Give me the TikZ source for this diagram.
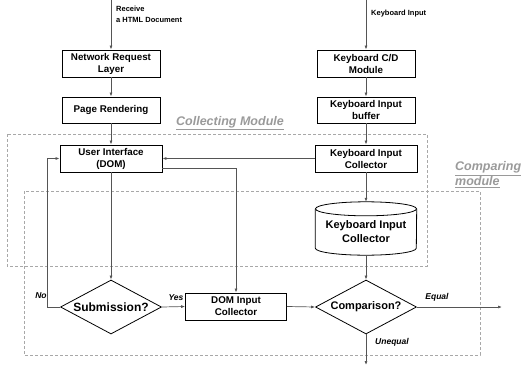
\documentclass[tikz,border=0pt]{standalone}
\usepackage{fontspec}
\setmainfont{Liberation Sans}
\usetikzlibrary{arrows.meta,shapes.geometric,calc}
\definecolor{lineg}{HTML}{555555}
\definecolor{dashg}{HTML}{A8A8A8}
\definecolor{labg}{HTML}{9A9A9A}
\tikzset{
  box/.style={draw=black,line width=0.9pt,fill=white,align=center,inner sep=1pt,
    font=\fontsize{9.8}{12}\selectfont\bfseries,minimum height=27pt},
  dia/.style={draw=black,line width=0.8pt,diamond,aspect=1.85,inner sep=0pt,
    minimum width=101pt,minimum height=54pt},
  conn/.style={draw=lineg,line width=0.7pt,-{Latex[length=4pt,width=3pt]}},
  modbox/.style={draw=dashg,line width=0.8pt,dash pattern=on 3pt off 2pt},
  small/.style={font=\fontsize{7.5}{11}\selectfont\bfseries,align=left,inner sep=0pt},
  yn/.style={font=\fontsize{8.5}{10}\selectfont\bfseries\itshape,inner sep=0pt},
  modlab/.style={text=labg,font=\fontsize{12.5}{15}\selectfont\bfseries\itshape,inner sep=0pt,align=left}
}
\begin{document}
\begin{tikzpicture}[x=1pt,y=-1pt]
\useasboundingbox (0,0) rectangle (527,367);
% module boxes
\draw[modbox] (7,134) rectangle (427,266);
\draw[modbox] (24,191) rectangle (480,355);
\node[modlab] (collab) at (230,123) {\underline{Collecting Module}};
\node[modlab,anchor=west] (cmplab) at (455,175) {\underline{Comparing}\\\underline{module}};
% top inputs
\coordinate (in1) at (111,0);
\coordinate (in2) at (366,0);
\node[small,anchor=north west] (recv) at (116,6) {Receive\\a HTML Document};
\node[small,anchor=west] (kbin) at (371,14) {Keyboard Input};
% left column
\node[box,minimum width=98pt] (nrl) at (111,63.5) {Network Request\\Layer};
\node[box,minimum width=98pt,minimum height=26pt] (pr) at (111,110) {Page Rendering};
\node[box,minimum width=102pt] (ui) at (111,158.5) {User Interface\\(DOM)};
% right column
\node[box,minimum width=98pt] (kcd) at (366,63.5) {Keyboard C/D\\Module};
\node[box,minimum width=98pt,minimum height=26pt] (kib) at (366,110) {Keyboard Input\\buffer};
\node[box,minimum width=102pt] (kic) at (366,158.5) {Keyboard Input\\Collector};
% cylinder
\node[minimum width=101pt,minimum height=53pt,inner sep=0pt] (cyl) at (366,228.5) {};
\draw[line width=0.8pt,fill=white] ($(cyl.north west)+(0,7)$) -- ($(cyl.south west)+(0,-7)$)
  arc[start angle=180,end angle=360,x radius=50.5pt,y radius=7pt]
  -- ($(cyl.north east)+(0,7)$);
\draw[line width=0.8pt] ($(cyl.north)+(0,7)$) ellipse[x radius=50.5pt,y radius=7pt];
\node[align=center,font=\fontsize{11}{13.5}\selectfont\bfseries,inner sep=0pt] (cyltxt) at ($(cyl.center)+(0,3)$) {Keyboard Input\\Collector};
% diamonds and DOM collector
\node[dia,font=\fontsize{12}{13}\selectfont\bfseries] (sub) at (111,307) {Submission?};
\node[box,minimum width=101pt] (dom) at (236,306.5) {DOM Input\\Collector};
\node[dia,font=\fontsize{11}{13}\selectfont\bfseries] (cmp) at (366,307) {Comparison?};
\coordinate (outE) at (502,307);
\coordinate (outU) at (366,365);
% connectors
\draw[conn] (in1) -- (nrl.north);
\draw[conn] (nrl) -- (pr);
\draw[conn] (pr) -- (ui);
\draw[conn] (ui) -- (sub);
\draw[conn] (in2) -- (kcd.north);
\draw[conn] (kcd) -- (kib);
\draw[conn] (kib) -- (kic);
\draw[conn] (kic.south) -- (cyl.north);
\draw[conn] (cyl.south) -- (cmp.north);
\draw[conn] (kic.west) -- (ui.east |- kic.west);
\draw[conn] ([yshift=-9.5pt]ui.east) -| (dom.north);
\draw[conn] (sub.west) -- ++(-13,0) |- (ui.west);
\draw[conn] (sub.east) -- (dom.west);
\draw[conn] (dom.east) -- (cmp.west);
\draw[conn] (cmp.east) -- (outE);
\draw[conn] (cmp.south) -- (outU);
% branch labels
\node[yn] (no) at (41,296) {No};
\node[yn] (yes) at (176,298) {Yes};
\node[yn] (eq) at (437,297) {Equal};
\node[yn] (uneq) at (392,342) {Unequal};
\end{tikzpicture}
\end{document}
